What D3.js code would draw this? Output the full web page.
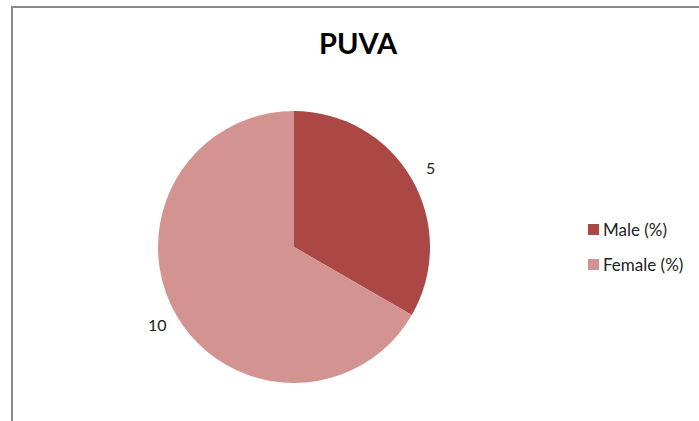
<!DOCTYPE html>
<html>
<head>
<style>
  body { margin: 0; background: #fff; }
  text { font-family: Lato, "Open Sans", sans-serif; }
</style>
</head>
<body>
<svg width="699" height="421"></svg>
<script src="https://d3js.org/d3.v7.min.js"></script>
<script>

var categories = ["Male (%)", "Female (%)"];
var values = [5, 10];
var colors = ["#ab4744", "#d39391"];
var title = "PUVA";

var svg = d3.select("svg"),
    width = +svg.attr("width"),
    height = +svg.attr("height");

// chart frame (only top and left edges visible)
svg.append("rect")
    .attr("x", 12)
    .attr("y", 7)
    .attr("width", 800)
    .attr("height", 500)
    .attr("fill", "none")
    .attr("stroke", "#8a8a8a")
    .attr("stroke-width", 2);

svg.append("text")
    .attr("x", 358)
    .attr("y", 54)
    .attr("text-anchor", "middle")
    .attr("font-size", 29)
    .attr("font-weight", "bold")
    .attr("fill", "#000")
    .text(title);

var cx = 294, cy = 247, r = 136;

var pie = d3.pie().sort(null);
var arc = d3.arc().innerRadius(0).outerRadius(r);
var labelArc = d3.arc().innerRadius(r * 1.16).outerRadius(r * 1.16);

var g = svg.append("g")
    .attr("transform", "translate(" + cx + "," + cy + ")");

var arcs = pie(values);

g.selectAll("path")
  .data(arcs)
  .enter().append("path")
    .attr("d", arc)
    .attr("fill", function(d, i) { return colors[i]; });

g.selectAll(".lbl")
  .data(arcs)
  .enter().append("text")
    .attr("class", "lbl")
    .attr("transform", function(d) { return "translate(" + labelArc.centroid(d) + ")"; })
    .attr("text-anchor", "middle")
    .attr("dy", "0.35em")
    .attr("font-size", 16)
    .attr("fill", "#222")
    .text(function(d) { return d.value; });

var legend = svg.append("g")
    .attr("transform", "translate(588,224)");

var item = legend.selectAll("g")
  .data(categories)
  .enter().append("g")
    .attr("transform", function(d, i) { return "translate(0," + (i * 35) + ")"; });

item.append("rect")
    .attr("width", 11)
    .attr("height", 11)
    .attr("fill", function(d, i) { return colors[i]; });

item.append("text")
    .attr("x", 15)
    .attr("y", 12)
    .attr("font-size", 17)
    .attr("fill", "#222")
    .text(function(d) { return d; });

</script>
</body>
</html>
